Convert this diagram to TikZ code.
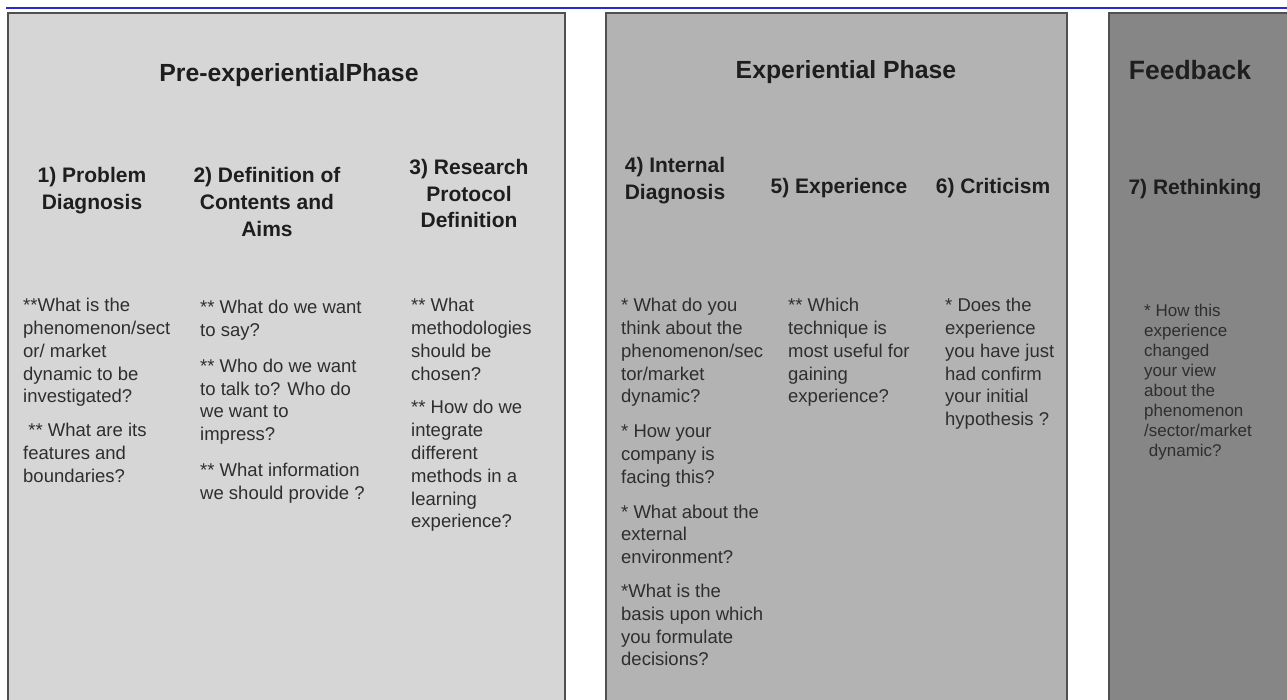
\documentclass[tikz,border=0pt]{standalone}
\usepackage{fontspec}
\setmainfont{Liberation Sans}
\definecolor{pA}{HTML}{D6D6D6}
\definecolor{pB}{HTML}{B3B3B3}
\definecolor{pC}{HTML}{868686}
\definecolor{edge}{HTML}{505050}
\definecolor{hdr}{HTML}{1E1E1E}
\definecolor{bodytxt}{HTML}{2E2E2E}
\definecolor{rule}{HTML}{2A2AD0}
\tikzset{
  panel/.style={draw=edge, line width=2.2pt},
  title/.style={font=\fontsize{24.8}{28}\selectfont\bfseries, text=hdr, inner sep=0pt, anchor=base},
  head/.style={font=\fontsize{21}{27}\selectfont\bfseries, text=hdr, align=center, anchor=north, inner sep=0pt},
  headone/.style={font=\fontsize{21}{27}\selectfont\bfseries, text=hdr, anchor=base, inner sep=0pt},
  body/.style={font=\fontsize{18.5}{22.8}\selectfont, text=bodytxt, align=left, anchor=north west, inner sep=0pt},
  smallbody/.style={font=\fontsize{17}{20}\selectfont, text=bodytxt, align=left, anchor=north west, inner sep=0pt}
}
\begin{document}
\begin{tikzpicture}[x=1pt,y=-1pt]
\useasboundingbox (0,0) rectangle (1287,700);
\fill[white] (0,0) rectangle (1287,700);
\begin{scope}
\clip (0,0) rectangle (1287,700);
\draw[rule, line width=1.6pt] (6,8) -- (1290,8);
\filldraw[panel, fill=pA] (8,13) rectangle (565,712);
\filldraw[panel, fill=pB] (606,13) rectangle (1067,712);
\filldraw[panel, fill=pC] (1109,13) rectangle (1300,712);
\end{scope}

% titles
\node[title] (t1) at (289,82) {Pre-experientialPhase};
\node[title] (t2) at (846,79) {Experiential Phase};
\node[title, font=\fontsize{26.5}{30}\selectfont\bfseries] (t3) at (1190,80) {Feedback};

% step headings
\node[head] (h1) at (92,167.5) {1) Problem\\Diagnosis};
\node[head] (h2) at (267,167.5) {2) Definition of\\Contents and\\Aims};
\node[head, font=\fontsize{21}{26.3}\selectfont\bfseries] (h3) at (469,159.5) {3) Research\\Protocol\\Definition};
\node[head] (h4) at (675,157.5) {4) Internal\\Diagnosis};
\node[headone] (h5) at (839,194) {5) Experience};
\node[headone] (h6) at (993,194) {6) Criticism};
\node[headone] (h7) at (1195,195) {7) Rethinking};

% questions
\node[body] (q1) at (23,298) {**What is the\\phenomenon/sect\\or/ market\\dynamic to be\\investigated?\\[11pt]
\ ** What are its\\features and\\boundaries?};
\node[body] (q2) at (200,300) {** What do we want\\to say?\\[13pt]
** Who do we want\\to talk to? Who do\\we want to\\impress?\\[13pt]
** What information\\we should provide ?};
\node[body] (q3) at (411,298) {** What\\methodologies\\should be\\chosen?\\[11pt]
** How do we\\integrate\\different\\methods in a\\learning\\experience?};
\node[body] (q4) at (621,298) {* What do you\\think about the\\phenomenon/sec\\tor/market\\dynamic?\\[12pt]
* How your\\company is\\facing this?\\[12pt]
* What about the\\external\\environment?\\[11pt]
*What is the\\basis upon which\\you formulate\\decisions?};
\node[body] (q5) at (788,298) {** Which\\technique is\\most useful for\\gaining\\experience?};
\node[body] (q6) at (945,298) {* Does the\\experience\\you have just\\had confirm\\your initial\\hypothesis ?};
\node[smallbody] (q7) at (1144,304) {* How this\\experience\\changed\\your view\\about the\\phenomenon\\/sector/market\\\ dynamic?};
\end{tikzpicture}
\end{document}
